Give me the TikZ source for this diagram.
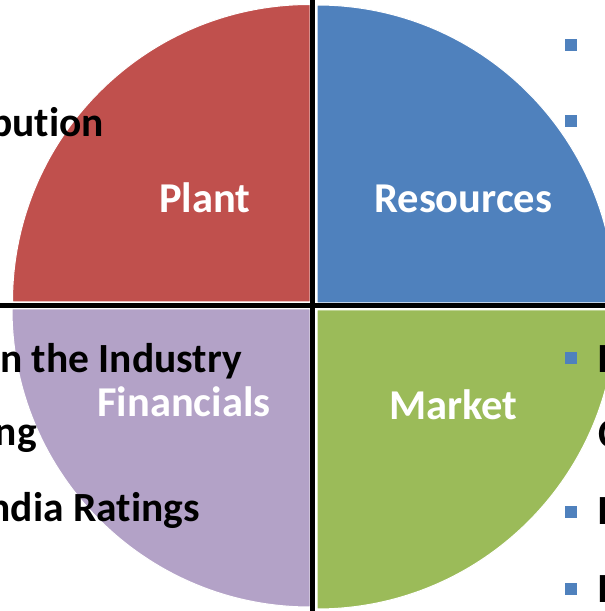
\documentclass[tikz,border=0pt]{standalone}
\usepackage{fontspec}
\setmainfont{Carlito}[Ligatures=NoCommon]
\definecolor{qred}{HTML}{C0504D}
\definecolor{qblue}{HTML}{4F81BD}
\definecolor{qgreen}{HTML}{9BBB59}
\definecolor{qlav}{HTML}{B3A2C7}
\tikzset{
  quad/.style={draw=white, line width=1pt},
  label/.style={text=white, font=\fontsize{42.5}{50}\selectfont\bfseries, inner sep=0pt, anchor=base},
  side/.style={text=black, font=\fontsize{41.5}{50}\selectfont\bfseries, inner sep=0pt},
  bullet/.style={fill=qblue, minimum size=12pt, inner sep=0pt, draw=none},
  divider/.style={black, line width=5.5pt}
}
\begin{document}
\begin{tikzpicture}[x=1pt,y=1pt]
\useasboundingbox (0,0) rectangle (605,611);
\clip (0,0) rectangle (605,611);
% quadrants
\path[quad, fill=qred] (310,309) -- ++(-297.5,0) arc[start angle=180, end angle=90, radius=297.5] -- cycle;
\path[quad, fill=qblue] (317,308) -- ++(0,298) arc[start angle=90, end angle=0, radius=298] -- cycle;
\path[quad, fill=qgreen] (317,301) -- ++(299,0) arc[start angle=0, end angle=-90, radius=299] -- cycle;
\path[quad, fill=qlav] (310,302) -- ++(0,-298) arc[start angle=270, end angle=180, radius=298] -- cycle;
% dividers
\coordinate (vtop) at (312.5,611);
\coordinate (vbot) at (312.5,0);
\coordinate (hl) at (0,305.5);
\coordinate (hr) at (605,305.5);
\draw[divider] (vtop) -- (vbot);
\draw[divider] (hl) -- (hr);
% labels
\node[label] (plant) at (204.7,398.7) {Plant};
\node[label] (res) at (463.3,398.7) {Resources};
\node[label] (fin) at (183.8,194.3) {Financials};
\node[label] (mkt) at (453.3,191) {Market};
% left side texts
\node[side, anchor=base east] (l1) at (104,474.3) {bution};
\node[side, anchor=base east] (l2) at (242,238) {n the Industry};
\node[side, anchor=base east] (l3) at (37,165) {ng};
\node[side, anchor=base east] (l4) at (200,89.3) {ndia Ratings};
% right side bullets
\node[bullet] (b1) at (570.5,566) {};
\node[bullet] (b2) at (570.5,490) {};
\node[bullet] (b3) at (570.5,253) {};
\node[bullet] (b4) at (570.5,98.5) {};
\node[bullet] (b5) at (570.5,21.5) {};
% right side clipped texts
\node[side, anchor=base west] (r1) at (597.4,238) {I};
\node[side, anchor=base west] (r2) at (598,163) {C};
\node[side, anchor=base west] (r3) at (597.4,86) {I};
\node[side, anchor=base west] (r4) at (597.4,8.5) {I};
\end{tikzpicture}
\end{document}
